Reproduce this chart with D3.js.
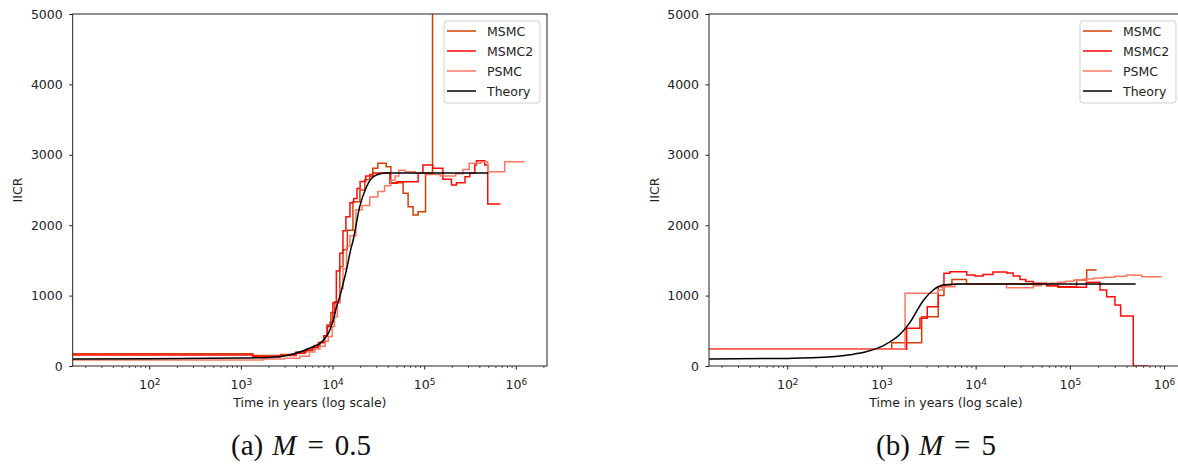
<!DOCTYPE html>
<html>
<head>
<meta charset="utf-8">
<script src="https://cdn.jsdelivr.net/npm/d3@7"></script>
<style>
  body { margin: 0; background: #fff; }
  svg { display: block; }
  .tick text, .lbl, .leg { font-family: "DejaVu Sans", sans-serif; fill: #222; }
  .cap { font-family: "Liberation Serif", "DejaVu Serif", serif; fill: #111; }
</style>
</head>
<body>
<svg id="fig" width="1178" height="466"></svg>
<script>
// ---- legend / series ----
const seriesNames  = ["MSMC", "MSMC2", "PSMC", "Theory"];
const seriesColors = ["#d23f00", "#ff0a0a", "#ff7663", "#000000"];

// ---- axis ticks ----
const yTicks = [0, 1000, 2000, 3000, 4000, 5000];
const xMajorExps = [2, 3, 4, 5, 6];

// ---- panel (a): M = 0.5 ----
// step series: values[i] holds from times[i] to times[i+1]
const msmcA_t = [14.6, 1350, 2700, 4000, 5200, 6300, 7300, 8000, 8700, 9600, 10600, 12000, 13000, 14500, 16700, 19900, 22500, 25500, 27500, 31200, 38500, 43300, 58900, 66800, 75700, 85900, 103500, 123400, 123400];
const msmcA_v = [175, 150, 165, 200, 240, 290, 340, 430, 582, 760, 913, 1410, 1650, 1930, 2333, 2500, 2650, 2720, 2808, 2879, 2831, 2604, 2453, 2263, 2145, 2192, 2737, 9000];

const msmc2A_t = [14.6, 1350, 2700, 4000, 5000, 6000, 7000, 8200, 8800, 9400, 10100, 11000, 12000, 13000, 14000, 15500, 17000, 18500, 20000, 23000, 27500, 42200, 50500, 85900, 97000, 124000, 160000, 198600, 225000, 279000, 315000, 357000, 372000, 458000, 494000, 680000];
const msmc2A_v = [155, 130, 150, 180, 215, 265, 330, 430, 560, 620, 900, 1350, 1600, 1920, 2120, 2320, 2380, 2520, 2620, 2700, 2740, 2595, 2618, 2737, 2855, 2808, 2652, 2571, 2604, 2689, 2737, 2855, 2916, 2855, 2300];

const psmcA_t = [14.6, 1740, 3000, 4400, 5600, 6400, 7300, 8300, 9000, 9900, 10500, 11300, 12100, 13000, 14200, 15500, 18000, 21000, 25500, 31200, 37000, 43000, 48000, 53000, 62000, 80000, 103000, 150000, 220000, 265000, 310000, 420000, 494000, 757000, 1250000];
const psmcA_v = [85, 100, 110, 140, 200, 240, 280, 350, 420, 560, 700, 900, 1100, 1380, 1700, 1850, 2220, 2280, 2400, 2480, 2560, 2640, 2700, 2780, 2760, 2740, 2720, 2700, 2730, 2790, 2880, 2900, 2760, 2900];

const theoryA_t = [14.6, 100, 1000, 2670, 3700, 6150, 7300, 9350, 10200, 11060, 12000, 13070, 14400, 15450, 16800, 19800, 23500, 30000, 38600, 500000];
const theoryA_v = [100, 102, 112, 133, 170, 274, 322, 511, 653, 842, 985, 1175, 1400, 1600, 1790, 2263, 2547, 2713, 2740, 2740];

// ---- panel (b): M = 5 ----
const msmcB_t = [14.8, 1285, 2673, 4009, 4608, 5600, 8000, 30000, 56770, 75000, 100300, 118000, 151000, 192900];
const msmcB_v = [237, 331, 700, 1000, 1150, 1230, 1170, 1165, 1140, 1120, 1127, 1222, 1364];

const msmc2B_t = [14.8, 1852, 2564, 3065, 4009, 4608, 5336, 8028, 9836, 12000, 15280, 21340, 25000, 29550, 34000, 40930, 56770, 75000, 100300, 150000, 208700, 245900, 301300, 346100, 471100, 674500];
const msmc2B_v = [237, 535, 677, 842, 1127, 1316, 1340, 1293, 1280, 1300, 1335, 1320, 1280, 1230, 1200, 1175, 1140, 1127, 1120, 1190, 1080, 985, 866, 710, 0];

const psmcB_t = [14.8, 1780, 4009, 4500, 6028, 15000, 21340, 40930, 50000, 62000, 75000, 90000, 110000, 140000, 180000, 230000, 300000, 400000, 471100, 580000, 942000];
const psmcB_v = [237, 1033, 1080, 1127, 1165, 1160, 1110, 1140, 1160, 1175, 1190, 1205, 1220, 1235, 1250, 1262, 1275, 1293, 1290, 1268];

const theoryB_t = [14.8, 100, 300, 464, 700, 1047, 1575, 2010, 2365, 2785, 3550, 4540, 6820, 500000];
const theoryB_v = [100, 108, 130, 160, 205, 290, 450, 620, 780, 930, 1080, 1150, 1165, 1165];

const svg = d3.select("#fig");

function drawPanel(cfg) {
  const top = 14, bottom = 366;
  const x = d3.scaleLog().domain(cfg.domain).range([cfg.x0, cfg.x1]);
  const y = d3.scaleLinear().domain([0, 5000]).range([bottom, top]);
  const g = svg.append("g");

  const clipId = "clip-" + cfg.id;
  svg.append("defs").append("clipPath").attr("id", clipId)
    .append("rect").attr("x", cfg.x0).attr("y", top)
    .attr("width", cfg.x1 - cfg.x0).attr("height", bottom - top);

  // step curves
  const stepLine = d3.line().x(d => x(d[0])).y(d => y(d[1])).curve(d3.curveStepAfter);
  const plotG = g.append("g").attr("clip-path", `url(#${clipId})`);
  cfg.steps.forEach((s, i) => {
    const pts = s.v.map((v, k) => [s.t[k], v]);
    pts.push([s.t[s.t.length - 1], s.v[s.v.length - 1]]);
    plotG.append("path").attr("d", stepLine(pts))
      .attr("fill", "none").attr("stroke", seriesColors[i])
      .attr("stroke-width", 1.5).attr("stroke-linejoin", "miter");
  });
  // theory curve
  const smooth = d3.line().x(d => x(d[0])).y(d => y(d[1])).curve(d3.curveMonotoneX);
  plotG.append("path").attr("d", smooth(cfg.theory.t.map((t, k) => [t, cfg.theory.v[k]])))
    .attr("fill", "none").attr("stroke", seriesColors[3]).attr("stroke-width", 1.5);

  // y axis
  const yAx = g.append("g").attr("transform", `translate(${cfg.x0},0)`)
    .call(d3.axisLeft(y).tickValues(yTicks).tickSize(3.5).tickPadding(6.5).tickFormat(d3.format("d")));
  yAx.select(".domain").remove();
  yAx.selectAll(".tick text").attr("font-size", 12.5);
  yAx.selectAll(".tick line").attr("stroke", "#222");

  // x axis: minor ticks
  const minors = [];
  for (let e = 1; e <= 6; e++) for (let m = 2; m <= 9; m++) {
    const v = m * Math.pow(10, e);
    if (v >= cfg.domain[0] && v <= cfg.domain[1]) minors.push(v);
  }
  const xMin = g.append("g").attr("transform", `translate(0,${bottom})`)
    .call(d3.axisBottom(x).tickValues(minors).tickSize(2).tickFormat(() => ""));
  xMin.select(".domain").remove();
  xMin.selectAll(".tick line").attr("stroke", "#222").attr("stroke-width", 0.8);

  // x axis: major ticks with 10^k labels
  const majors = xMajorExps.map(e => Math.pow(10, e)).filter(v => v <= cfg.domain[1]);
  const xMaj = g.append("g").attr("transform", `translate(0,${bottom})`)
    .call(d3.axisBottom(x).tickValues(majors).tickSize(3.5).tickPadding(11).tickFormat(() => ""));
  xMaj.select(".domain").remove();
  xMaj.selectAll(".tick line").attr("stroke", "#222");
  xMaj.selectAll(".tick text").attr("font-size", 12.5).each(function (d) {
    const t = d3.select(this);
    t.text("10");
    t.append("tspan").attr("dy", "-0.45em").attr("font-size", "0.72em").text(Math.round(Math.log10(d)));
  });

  // frame
  g.append("rect").attr("x", cfg.x0).attr("y", top)
    .attr("width", cfg.x1 - cfg.x0).attr("height", bottom - top)
    .attr("fill", "none").attr("stroke", "#222").attr("stroke-width", 1);

  // axis titles
  g.append("text").attr("class", "lbl").attr("font-size", 12.5)
    .attr("x", (cfg.x0 + cfg.x1) / 2).attr("y", 407).attr("text-anchor", "middle")
    .text("Time in years (log scale)");
  g.append("text").attr("class", "lbl").attr("font-size", 12.5)
    .attr("transform", `translate(${cfg.yLabelX},${(top + bottom) / 2}) rotate(-90)`)
    .attr("text-anchor", "middle").text("IICR");

  // legend
  const lg = g.append("g").attr("transform", `translate(${cfg.legX},21)`);
  lg.append("rect").attr("width", 96).attr("height", 82).attr("rx", 3)
    .attr("fill", "#fff").attr("fill-opacity", 0.8).attr("stroke", "#d0d0d0");
  seriesNames.forEach((n, i) => {
    const yy = 10 + i * 20;
    lg.append("line").attr("x1", 3).attr("x2", 32).attr("y1", yy).attr("y2", yy)
      .attr("stroke", seriesColors[i]).attr("stroke-width", 1.5);
    lg.append("text").attr("class", "leg").attr("x", 43).attr("y", yy)
      .attr("dy", "0.36em").attr("font-size", 12.5).text(n);
  });

  // caption: (tag) M = value
  const cap = svg.append("text").attr("class", "cap").attr("font-size", 29)
    .attr("x", cfg.capX).attr("y", 455).attr("text-anchor", "middle");
  cap.append("tspan").text(cfg.capTag);
  cap.append("tspan").attr("dx", 9).attr("font-style", "italic").text("M");
  cap.append("tspan").attr("dx", 11).text("=");
  cap.append("tspan").attr("dx", 11).text(cfg.capValue);
}

drawPanel({
  id: "a", x0: 72.7, x1: 547, domain: [14.6, 2.19e6], yLabelX: 22, legX: 444,
  capX: 301, capTag: "(a)", capValue: "0.5",
  steps: [{ t: msmcA_t, v: msmcA_v }, { t: msmc2A_t, v: msmc2A_v }, { t: psmcA_t, v: psmcA_v }],
  theory: { t: theoryA_t, v: theoryA_v }
});
drawPanel({
  id: "b", x0: 709, x1: 1183, domain: [14.76, 1.59e6], yLabelX: 659, legX: 1080,
  capX: 936, capTag: "(b)", capValue: "5",
  steps: [{ t: msmcB_t, v: msmcB_v }, { t: msmc2B_t, v: msmc2B_v }, { t: psmcB_t, v: psmcB_v }],
  theory: { t: theoryB_t, v: theoryB_v }
});
</script>
</body>
</html>
